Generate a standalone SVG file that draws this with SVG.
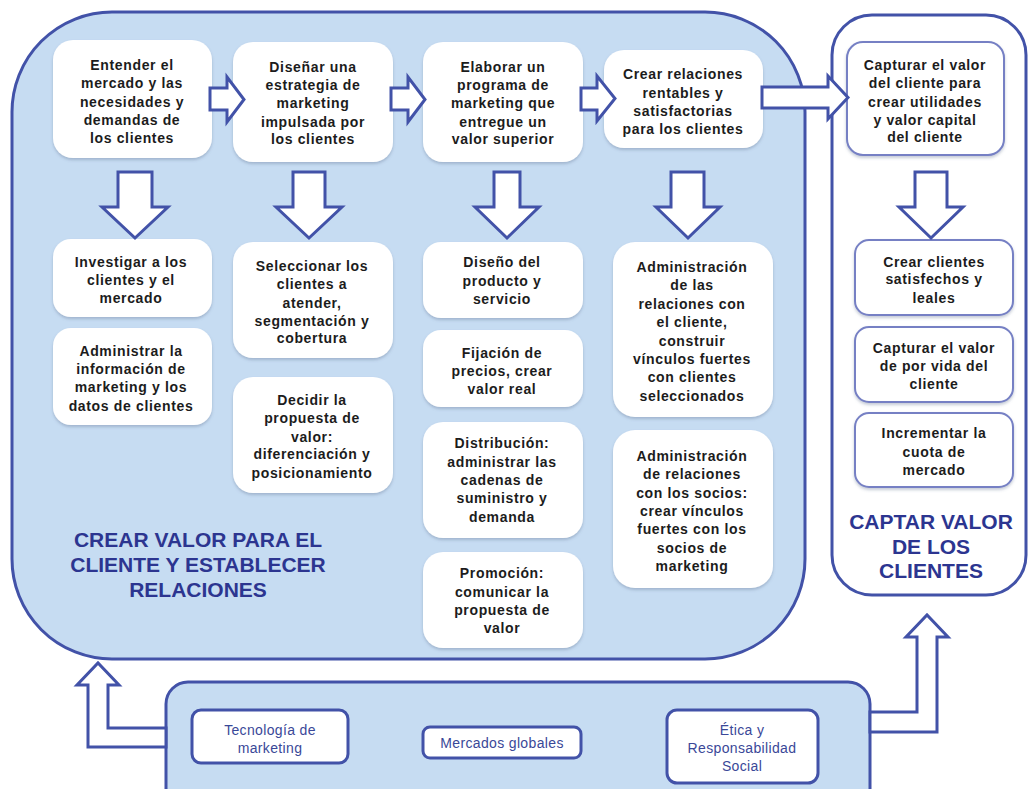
<svg xmlns="http://www.w3.org/2000/svg" width="1028" height="789" viewBox="0 0 1028 789">
<defs>
<filter id="sh" x="-10%" y="-10%" width="120%" height="125%">
<feDropShadow dx="0" dy="2" stdDeviation="1.5" flood-color="#5a6a8a" flood-opacity="0.35"/>
</filter>
<style>
.panel{fill:#c6dcf2;stroke:#4252a8;stroke-width:3}
.panelw{fill:#ffffff;stroke:#4252a8;stroke-width:3}
.node{fill:#ffffff;filter:url(#sh)}
.rnode{fill:#ffffff;stroke:#7680c4;stroke-width:2;filter:url(#sh)}
.bnode{fill:#ffffff;stroke:#4252a8;stroke-width:3}
.arr{fill:#ffffff;stroke:#4252a8;stroke-width:3;stroke-linejoin:miter}
.t{font-family:"Liberation Sans",Arial,sans-serif;font-weight:bold;font-size:14px;letter-spacing:0.65px;fill:#1c1c1c;text-anchor:middle}
.bt{font-family:"Liberation Sans",Arial,sans-serif;font-size:14px;letter-spacing:0.35px;fill:#3a4898;text-anchor:middle}
.title{font-family:"Liberation Sans",Arial,sans-serif;font-weight:bold;font-size:21px;fill:#2c3590;text-anchor:middle}
</style>
</defs>
<rect width="1028" height="789" fill="#ffffff"/>

<g id="panel-crear">
<rect class="panel" x="12" y="12" width="793" height="647" rx="100" ry="100"/>
<text class="title"><tspan x="198" y="547">CREAR VALOR PARA EL</tspan><tspan x="198" y="572">CLIENTE Y ESTABLECER</tspan><tspan x="198" y="597">RELACIONES</tspan></text>
</g>
<g id="panel-captar">
<rect class="panelw" x="832" y="15" width="194" height="580" rx="40" ry="40"/>
<text class="title"><tspan x="931" y="529">CAPTAR VALOR</tspan><tspan x="931" y="554">DE LOS</tspan><tspan x="931" y="578">CLIENTES</tspan></text>
</g>
<g id="panel-entorno">
<rect class="panel" x="166" y="682" width="704" height="130" rx="22" ry="22"/>
</g>

<g id="n-entender"><rect class="node" x="53" y="40" width="159" height="118" rx="20"/>
<text class="t"><tspan x="132" y="70">Entender el</tspan><tspan x="132" y="88.3">mercado y las</tspan><tspan x="132" y="106.6">necesidades y</tspan><tspan x="132" y="125">demandas de</tspan><tspan x="132" y="143.3">los clientes</tspan></text></g>
<g id="n-disenar"><rect class="node" x="233" y="42" width="160" height="120" rx="20"/>
<text class="t"><tspan x="313" y="72">Diseñar una</tspan><tspan x="313" y="90">estrategia de</tspan><tspan x="313" y="108">marketing</tspan><tspan x="313" y="127">impulsada por</tspan><tspan x="313" y="144">los clientes</tspan></text></g>
<g id="n-elaborar"><rect class="node" x="423" y="42" width="160" height="120" rx="20"/>
<text class="t"><tspan x="503" y="72">Elaborar un</tspan><tspan x="503" y="90">programa de</tspan><tspan x="503" y="108">marketing que</tspan><tspan x="503" y="127">entregue un</tspan><tspan x="503" y="144">valor superior</tspan></text></g>
<g id="n-relaciones"><rect class="node" x="604" y="50" width="159" height="98" rx="20"/>
<text class="t"><tspan x="683" y="79">Crear relaciones</tspan><tspan x="683" y="98">rentables y</tspan><tspan x="683" y="116">satisfactorias</tspan><tspan x="683" y="134">para los clientes</tspan></text></g>

<g id="n-investigar"><rect class="node" x="53" y="239" width="159" height="78" rx="18"/>
<text class="t"><tspan x="131" y="267">Investigar a los</tspan><tspan x="131" y="285">clientes y  el</tspan><tspan x="131" y="303">mercado</tspan></text></g>
<g id="n-administrar"><rect class="node" x="53" y="328" width="159" height="97" rx="18"/>
<text class="t"><tspan x="131" y="356">Administrar la</tspan><tspan x="131" y="374">información de</tspan><tspan x="131" y="392">marketing y  los</tspan><tspan x="131" y="411">datos de clientes</tspan></text></g>
<g id="n-seleccionar"><rect class="node" x="233" y="242" width="160" height="116" rx="20"/>
<text class="t"><tspan x="312" y="271">Seleccionar los</tspan><tspan x="312" y="289">clientes a</tspan><tspan x="312" y="308">atender,</tspan><tspan x="312" y="326">segmentación y</tspan><tspan x="312" y="343">cobertura</tspan></text></g>
<g id="n-decidir"><rect class="node" x="233" y="377" width="160" height="116" rx="20"/>
<text class="t"><tspan x="312" y="405">Decidir la</tspan><tspan x="312" y="423">propuesta de</tspan><tspan x="312" y="442">valor:</tspan><tspan x="312" y="459">diferenciación y</tspan><tspan x="312" y="478">posicionamiento</tspan></text></g>
<g id="n-producto"><rect class="node" x="423" y="242" width="160" height="76" rx="18"/>
<text class="t"><tspan x="502" y="267">Diseño del</tspan><tspan x="502" y="286">producto y</tspan><tspan x="502" y="304">servicio</tspan></text></g>
<g id="n-precios"><rect class="node" x="423" y="330" width="160" height="77" rx="18"/>
<text class="t"><tspan x="502" y="358">Fijación de</tspan><tspan x="502" y="376">precios, crear</tspan><tspan x="502" y="394">valor real</tspan></text></g>
<g id="n-distribucion"><rect class="node" x="423" y="422" width="160" height="116" rx="20"/>
<text class="t"><tspan x="502" y="448">Distribución:</tspan><tspan x="502" y="467">administrar las</tspan><tspan x="502" y="485">cadenas de</tspan><tspan x="502" y="503">suministro y</tspan><tspan x="502" y="522">demanda</tspan></text></g>
<g id="n-promocion"><rect class="node" x="423" y="552" width="160" height="96" rx="20"/>
<text class="t"><tspan x="502" y="578">Promoción:</tspan><tspan x="502" y="597">comunicar la</tspan><tspan x="502" y="615">propuesta de</tspan><tspan x="502" y="633">valor</tspan></text></g>
<g id="n-adm-cliente"><rect class="node" x="613" y="242" width="160" height="175" rx="22"/>
<text class="t"><tspan x="692" y="272">Administración</tspan><tspan x="692" y="290">de las</tspan><tspan x="692" y="309">relaciones con</tspan><tspan x="692" y="327">el cliente,</tspan><tspan x="692" y="346">construir</tspan><tspan x="692" y="364">vínculos fuertes</tspan><tspan x="692" y="382">con clientes</tspan><tspan x="692" y="401">seleccionados</tspan></text></g>
<g id="n-adm-socios"><rect class="node" x="613" y="430" width="160" height="158" rx="22"/>
<text class="t"><tspan x="692" y="461">Administración</tspan><tspan x="692" y="479">de relaciones</tspan><tspan x="692" y="498">con los socios:</tspan><tspan x="692" y="516">crear vínculos</tspan><tspan x="692" y="534">fuertes con los</tspan><tspan x="692" y="553">socios de</tspan><tspan x="692" y="571">marketing</tspan></text></g>

<g id="n-capturar"><rect class="rnode" x="847" y="42" width="157" height="113" rx="16"/>
<text class="t"><tspan x="925" y="70">Capturar el valor</tspan><tspan x="925" y="88">del cliente para</tspan><tspan x="925" y="107">crear utilidades</tspan><tspan x="925" y="125">y valor capital</tspan><tspan x="925" y="142">del cliente</tspan></text></g>
<g id="n-satisfechos"><rect class="rnode" x="855" y="240" width="158" height="75" rx="14"/>
<text class="t"><tspan x="934" y="267">Crear clientes</tspan><tspan x="934" y="284">satisfechos y</tspan><tspan x="934" y="303">leales</tspan></text></g>
<g id="n-por-vida"><rect class="rnode" x="855" y="327" width="158" height="75" rx="14"/>
<text class="t"><tspan x="934" y="353">Capturar el valor</tspan><tspan x="934" y="371">de por vida del</tspan><tspan x="934" y="389">cliente</tspan></text></g>
<g id="n-cuota"><rect class="rnode" x="855" y="413" width="158" height="74" rx="14"/>
<text class="t"><tspan x="934" y="438">Incrementar la</tspan><tspan x="934" y="457">cuota de</tspan><tspan x="934" y="475">mercado</tspan></text></g>

<g id="n-tecnologia"><rect class="bnode" x="192" y="710" width="156" height="53" rx="9"/>
<text class="bt"><tspan x="270" y="735">Tecnología de</tspan><tspan x="270" y="753">marketing</tspan></text></g>
<g id="n-mercados"><rect class="bnode" x="423" y="727" width="158" height="31" rx="7"/>
<text class="bt"><tspan x="502" y="748">Mercados globales</tspan></text></g>
<g id="n-etica"><rect class="bnode" x="667" y="710" width="151" height="73" rx="10"/>
<text class="bt"><tspan x="742" y="735">Ética y</tspan><tspan x="742" y="753">Responsabilidad</tspan><tspan x="742" y="771">Social</tspan></text></g>

<g id="connectors">
<polygon class="arr" points="210,88 227,88 227,77 244,99.5 227,122 227,110 210,110"/>
<polygon class="arr" points="391,88 408,88 408,77 425,99.5 408,122 408,110 391,110"/>
<polygon class="arr" points="581,88 597,88 597,76 615,98.5 597,121 597,110 581,110"/>
<polygon class="arr" points="762,87 828,87 828,76 848,97.5 828,119 828,108 762,108"/>
<polygon class="arr" points="118,172 152,172 152,207 168,207 135,238 102,207 118,207"/>
<polygon class="arr" points="293,172 325,172 325,207 342,207 309,238 276,207 293,207"/>
<polygon class="arr" points="494,172 520,172 520,207 539,207 507,238 475,207 494,207"/>
<polygon class="arr" points="671,172 704,172 704,207 720,207 688,238 656,207 671,207"/>
<polygon class="arr" points="915,172 947,172 947,207 963,207 931,238 899,207 915,207"/>
<polygon class="arr" points="166,728 108,728 108,685 119,685 98,663 77,685 88,685 88,747 166,747"/>
<polygon class="arr" points="870,712 917,712 917,637 906,637 927,615 948,637 937,637 937,732 870,732"/>
</g>
</svg>
